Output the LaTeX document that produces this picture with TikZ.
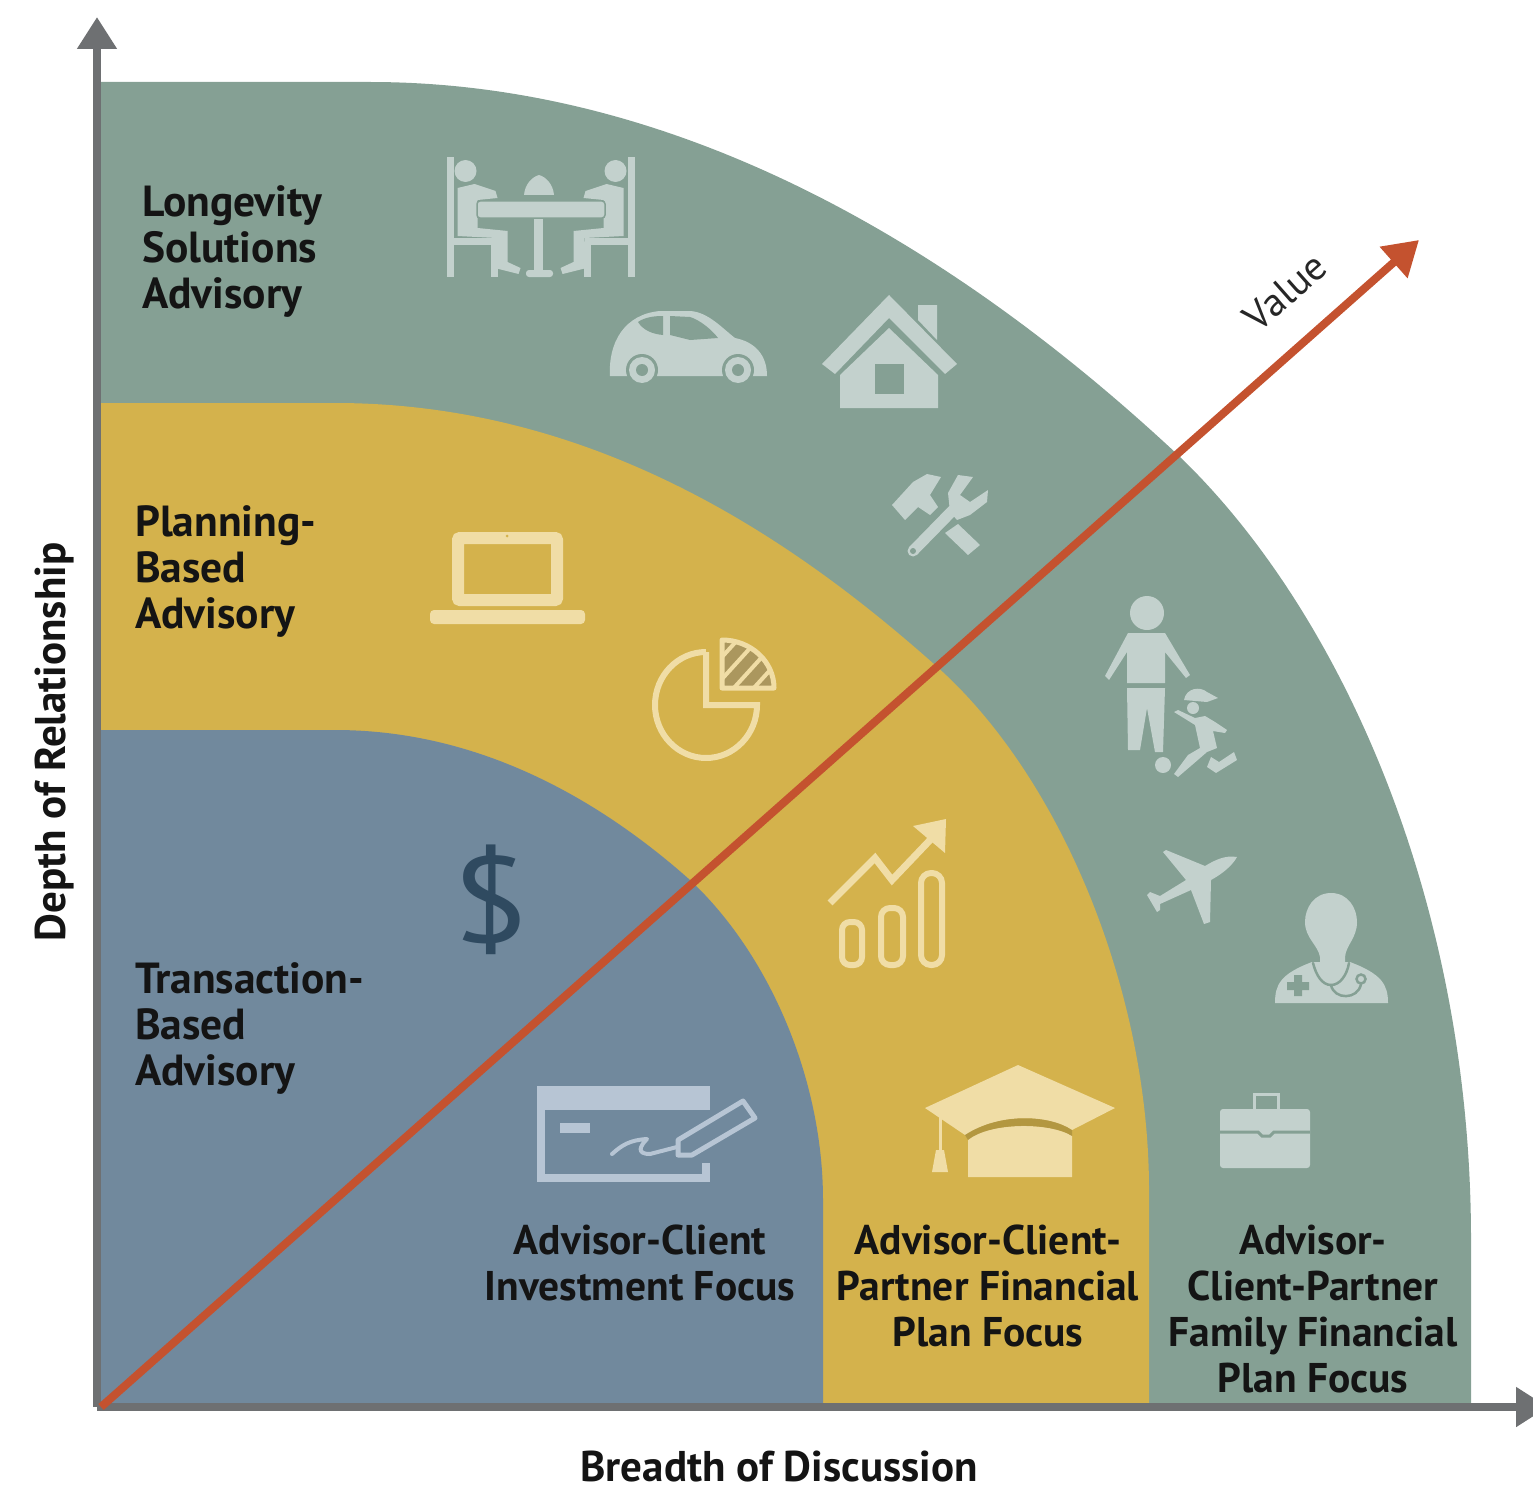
\documentclass[tikz,border=0pt]{standalone}
\usepackage{fontspec}
\setmainfont{PT Sans}
\usetikzlibrary{arrows.meta}
\definecolor{outerband}{HTML}{85A094}
\definecolor{middleband}{HTML}{D4B24C}
\definecolor{innerband}{HTML}{71899D}
\definecolor{axisgray}{HTML}{6E7072}
\definecolor{valuered}{HTML}{C4522F}
\definecolor{outericon}{HTML}{C3D1CD}
\definecolor{middleicon}{HTML}{F0DDA6}
\definecolor{innericon}{HTML}{B7C5D4}
\definecolor{dollarblue}{HTML}{2F4A60}
\tikzset{
  bandlabel/.style={font=\fontsize{41.5}{46}\selectfont\bfseries,text=black!92,inner sep=0pt},
  sidelabel/.style={font=\fontsize{43.5}{46}\selectfont\bfseries,text=black!92,inner sep=0pt,anchor=west,align=left},
  axislabel/.style={font=\fontsize{43}{46}\selectfont\bfseries,text=black!92,inner sep=0pt},
  axisline/.style={draw=axisgray,line width=8pt,-{Triangle[length=32pt,width=38pt]}},
  stroke/.style={line cap=round,line join=round}
}
\begin{document}
\begin{tikzpicture}[x=1pt,y=-1pt]
  \useasboundingbox (0,0) rectangle (1533,1490);
  % bands
  \fill[outerband] (97,82) -- (370,82) .. controls (700,82) and (980,270) .. (1178,455) .. controls (1340,610) and (1471,900) .. (1471,1240) -- (1471,1407) -- (97,1407) -- cycle;
  \fill[middleband] (97,403) -- (335,403) .. controls (600,403) and (800,545) .. (935,665) .. controls (1060,775) and (1149,990) .. (1149,1190) -- (1149,1407) -- (97,1407) -- cycle;
  \fill[innerband] (97,730) -- (335,730) .. controls (480,730) and (600,800) .. (690,880) .. controls (770,955) and (823,1080) .. (823,1200) -- (823,1407) -- (97,1407) -- cycle;
  % axes and value line
  \coordinate (origin) at (97,1407);
  \coordinate (ytip) at (97,17);
  \coordinate (xtip) at (1548,1407);
  \coordinate (valuestart) at (101,1407);
  \coordinate (valuetip) at (1419,240);
  \draw[axisline] (origin) to (ytip);
  \draw[axisline] (origin) to (xtip);
  \draw[draw=valuered,line width=8pt,-{Triangle[length=34pt,width=40pt]}] (valuestart) to (valuetip);
  % band labels
  \node[sidelabel] (longevity) at (142,251) {Longevity\\Solutions\\Advisory};
  \node[sidelabel] (planning) at (135,571) {Planning-\\Based\\Advisory};
  \node[sidelabel] (transaction) at (135,1028) {Transaction-\\Based\\Advisory};
  \node[bandlabel,align=center] (investment) at (640,1263) {Advisor-Client\\Investment Focus};
  \node[bandlabel,align=center] (partner) at (988,1286) {Advisor-Client-\\Partner Financial\\Plan Focus};
  \node[bandlabel,align=center] (family) at (1313,1309) {Advisor-\\Client-Partner\\Family Financial\\Plan Focus};
  % axis labels
  \node[axislabel,rotate=90] (depth) at (55,742) {Depth of Relationship};
  \node[axislabel] (breadth) at (779,1466) {Breadth of Discussion};
  \node[rotate=41.5,inner sep=0pt,text=black!85,font=\fontsize{40}{46}\selectfont] (valuelabel) at (1285,292) {Value};
  % diners
  \fill[outericon] (524,195) .. controls (525,184) and (532,177) .. (539,175) .. controls (546,177) and (553,184) .. (554,195) -- cycle;
  \fill[outericon] (534,217) rectangle (543,272);
  \fill[outericon,rounded corners=3pt] (526,270) rectangle (553,277);
  \foreach \s in {1,-1} {
    \begin{scope}[shift={(540.5,0)},xscale=\s]
      \fill[outericon] (-94,157) rectangle (-87,277);
      \fill[outericon] (-94,238) rectangle (-44,245);
      \fill[outericon] (-50,245) rectangle (-43,277);
      \fill[outericon] (-75,171) circle (11);
      \fill[outericon] (-83,188) -- (-66,184) -- (-45,191) -- (-43,198) -- (-63,200) -- (-63,228) -- (-33,231) -- (-33,262) -- (-20,268) -- (-22,274) -- (-46,268) -- (-44,238) -- (-83,236) -- cycle;
    \end{scope}
  }
  \fill[outericon,rounded corners=3pt,draw=outerband,line width=1.5pt] (477,201) rectangle (605,218);
  % car
  \fill[outericon] (610,376) .. controls (608,342) and (625,314) .. (660,311) -- (690,311) .. controls (708,312) and (722,328) .. (735,338) .. controls (755,342) and (767,355) .. (767,376) -- cycle;
  \fill[outerband] (638,322) .. controls (645,317) and (655,316) .. (663,316) -- (663,335) .. controls (652,334) and (643,330) .. (638,322) -- cycle;
  \fill[outerband] (670,316) -- (690,317) .. controls (700,320) and (712,330) .. (718,338) -- (690,340) -- (670,335) -- cycle;
  \foreach \cx in {642,738} {
    \fill[outerband] (\cx,370) circle (16);
    \fill[outericon] (\cx,370) circle (13);
    \fill[outerband] (\cx,370) circle (6);
  }
  % house
  \fill[outericon] (889,295) -- (957,364) -- (945,374) -- (889,318) -- (835,374) -- (822,364) -- cycle;
  \fill[outericon] (918,305) -- (937,305) -- (937,340) -- (918,320) -- cycle;
  \fill[outericon] (840,375) -- (889,328) -- (938,375) -- (938,408) -- (840,408) -- cycle;
  \fill[outerband] (875,364) rectangle (904,394);
  % tools
  \fill[outericon] (892,505) -- (913,482) -- (927,474) -- (941,477) -- (930,495) -- (938,507) -- (930,515) -- (918,507) -- (905,520) -- cycle;
  \fill[outericon] (945,533) -- (958,524) -- (980,545) -- (968,555) -- cycle;
  \draw[outericon,line width=11pt,line cap=round] (913,551) -- (955,508);
  \fill[outericon] (950,512) -- (948,493) -- (958,475) -- (973,477) -- (960,495) -- (970,502) -- (988,490) -- (987,502) -- (970,515) -- (957,520) -- cycle;
  \fill[outerband] (913,551) circle (3);
  % adult and child
  \fill[outericon] (1147,613) circle (17);
  \fill[outericon] (1128,633) -- (1165,633) -- (1190,675) -- (1186,678) -- (1165,652) -- (1165,683) -- (1127,683) -- (1127,652) -- (1109,680) -- (1105,676) -- cycle;
  \fill[outericon] (1127,688) -- (1165,688) -- (1163,752) -- (1155,752) -- (1147,708) -- (1140,750) -- (1128,750) -- cycle;
  \fill[outericon] (1163,765) circle (8);
  \fill[outericon] (1184,700) .. controls (1186,688) and (1200,686) .. (1207,692) -- (1218,698) -- (1207,702) -- cycle;
  \fill[outericon] (1193,708) circle (6);
  \fill[outericon] (1174,712) -- (1178,710) -- (1195,718) -- (1205,716) -- (1215,722) -- (1227,730) -- (1225,733) -- (1213,731) -- (1217,748) -- (1207,752) -- (1192,765) -- (1178,777) -- (1174,774) -- (1188,755) -- (1200,748) -- (1195,725) -- cycle;
  \fill[outericon] (1211,757) -- (1219,762) -- (1234,752) -- (1237,760) -- (1216,773) -- (1207,767) -- cycle;
  % plane
  \fill[outericon] (1237,857) .. controls (1225,855) and (1215,860) .. (1205,866) -- (1166,850) -- (1163,852) -- (1186,880) -- (1160,896) -- (1150,892) -- (1147,895) -- (1157,912) -- (1160,910) -- (1160,904) -- (1191,890) -- (1204,924) -- (1210,922) -- (1211,880) .. controls (1222,874) and (1232,866) .. (1237,857) -- cycle;
  % doctor
  \fill[outericon] (1275,1003) .. controls (1275,985) and (1280,974) .. (1312,962) -- (1350,962) .. controls (1382,974) and (1388,985) .. (1388,1003) -- cycle;
  \fill[outericon] (1331,893) .. controls (1348,893) and (1357,908) .. (1357,922) .. controls (1357,938) and (1346,945) .. (1345,957) -- (1345,978) -- (1320,978) -- (1320,957) .. controls (1318,945) and (1305,938) .. (1305,922) .. controls (1305,908) and (1314,893) .. (1331,893) -- cycle;
  \draw[outerband,line width=2.5pt,stroke] (1313,963) .. controls (1316,975) and (1322,985) .. (1331,985) .. controls (1340,985) and (1347,975) .. (1349,963);
  \draw[outerband,line width=2.5pt,stroke] (1331,985) .. controls (1334,1000) and (1358,1000) .. (1361,984);
  \draw[outerband,line width=2.5pt] (1361,979) circle (4.5);
  \fill[outerband] (1294,975) rectangle (1302,996) (1287,982) rectangle (1309,990);
  % briefcase
  \fill[outericon,rounded corners=3pt] (1220,1109) rectangle (1310,1168);
  \draw[outericon,line width=3pt] (1254,1109) -- (1254,1094) -- (1278,1094) -- (1278,1109);
  \draw[outerband,line width=3pt] (1220,1132) -- (1258,1132) -- (1262,1136) -- (1270,1136) -- (1274,1132) -- (1310,1132);
  % laptop
  \draw[middleicon,line width=12pt,rounded corners=2pt] (458,538) rectangle (557,600);
  \fill[middleicon,rounded corners=4pt] (430,610) rectangle (585,624);
  \fill[middleband] (507,536) circle (1.5);
  % pie chart
  \draw[middleicon,line width=6pt,line join=miter] (706,652) -- (706,705) -- (757,705) arc[start angle=0,delta angle=-270,x radius=51,y radius=-53];
  \fill[middleicon!55!middleband!75!black] (722,640) arc[start angle=90,delta angle=-90,x radius=52,y radius=-48] -- (722,688) -- cycle;
  \begin{scope}
    \clip (722,640) arc[start angle=90,delta angle=-90,x radius=52,y radius=-48] -- (722,688) -- cycle;
    \foreach \d in {-30,-10,...,60} {
      \draw[middleicon,line width=4pt] (722+\d,690) -- (772+\d,635);
    }
  \end{scope}
  \draw[middleicon,line width=5pt,line join=round] (722,640) arc[start angle=90,delta angle=-90,x radius=52,y radius=-48] -- (722,688) -- cycle;
  % growth chart
  \draw[middleicon,line width=7pt,line join=miter] (830,903) -- (875,858) -- (892,880) -- (932,838);
  \fill[middleicon] (913,826) -- (946,819) -- (945,853) -- cycle;
  \draw[middleicon,line width=6pt,rounded corners=8pt] (842,922) rectangle (862,965);
  \draw[middleicon,line width=6pt,rounded corners=9pt] (881,908) rectangle (903,965);
  \draw[middleicon,line width=6pt,rounded corners=10pt] (921,873) rectangle (942,965);
  % dollar
  \node[inner sep=0pt,text=dollarblue,transform shape,xscale=1.15,font=\fontsize{122}{130}\selectfont] (dollar) at (491,900) {\$};
  % cheque
  \fill[innericon] (537,1086) rectangle (710,1110);
  \draw[innericon,line width=8pt] (541,1108) -- (541,1178) -- (706,1178) -- (706,1163);
  \fill[innericon] (560,1123) rectangle (590,1133);
  \draw[innericon,line width=4pt,stroke] (612,1154) .. controls (622,1145) and (630,1140) .. (647,1139) .. controls (640,1146) and (636,1154) .. (650,1154) -- (677,1147);
  \draw[innericon,line width=5pt,line join=round] (678,1140) -- (743,1101) -- (755,1118) -- (692,1155) -- (678,1155) -- cycle;
  % graduation cap
  \fill[middleicon] (1018,1065) -- (1115,1108) -- (1072,1130) .. controls (1050,1115) and (1000,1112) .. (965,1135) -- (925,1108) -- cycle;
  \fill[middleicon] (968,1140) .. controls (990,1122) and (1050,1122) .. (1072,1136) -- (1072,1177) -- (968,1177) -- cycle;
  \fill[middleband!70!black,opacity=.5] (965,1135) .. controls (1000,1112) and (1050,1115) .. (1072,1130) -- (1072,1136) .. controls (1050,1122) and (990,1122) .. (968,1140) -- cycle;
  \draw[middleicon,line width=3pt] (940,1116) -- (940,1150);
  \fill[middleicon] (936,1150) -- (944,1150) -- (948,1172) -- (932,1172) -- cycle;
\end{tikzpicture}
\end{document}
